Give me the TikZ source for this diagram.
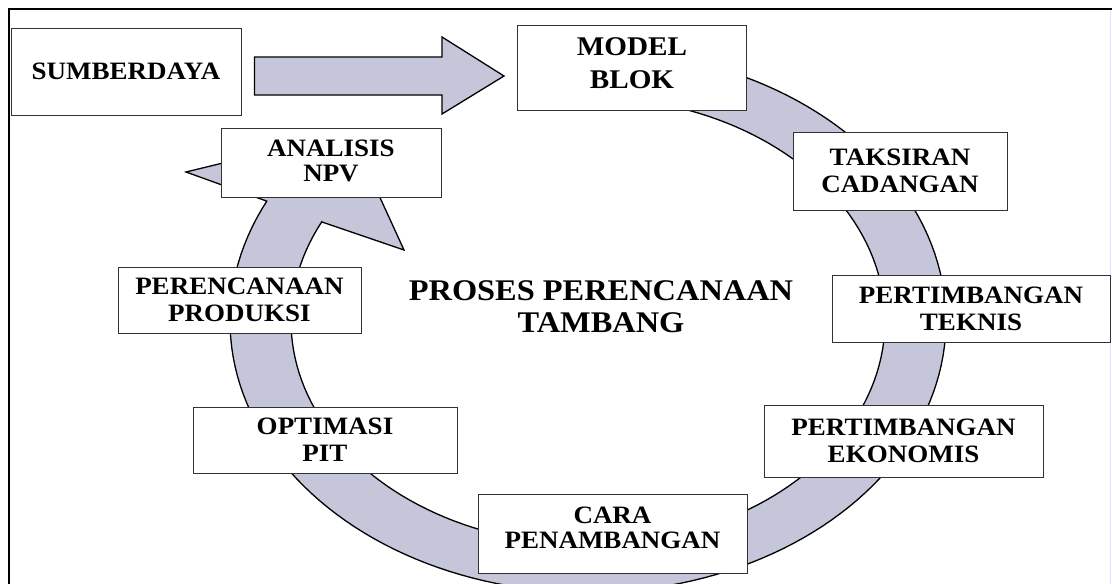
\documentclass[tikz,border=0pt]{standalone}
\usepackage{fontspec}
\newfontfamily\boxfont{Liberation Serif}[FakeStretch=1.08]
\usetikzlibrary{calc}
\definecolor{bandfill}{RGB}{198,198,218}
\definecolor{edgegray}{RGB}{50,50,50}
\tikzset{
  stage/.style={draw=edgegray, line width=1pt, fill=white, inner sep=0pt,
    align=center, text=black,
    font=\boxfont\bfseries\fontsize{25}{27}\selectfont},
  band/.style={fill=bandfill, draw=black, line width=1.3pt, line join=miter},
  titletext/.style={align=center, text=black,
    font=\boxfont\bfseries\fontsize{30}{32}\selectfont}
}
\begin{document}
\begin{tikzpicture}[x=1pt,y=-1pt]
\useasboundingbox (0,0) rectangle (1112,584);
\clip (0,0) rectangle (1112,584);
\fill[white] (0,0) rectangle (1112,584);

% outer frame
\draw[line width=1.4pt] (9,600) -- (9,9) -- (1120,9);
\draw[line width=0.6pt, blue!12] (1110,10) -- (1110,600);

% circular process band, clockwise, ending in its arrowhead
\filldraw[band]
  plot[domain=-90:206.2, samples=150] ({588+358*cos(\x)},{321+271.5*sin(\x)})
  -- (186,172) -- (350,132) -- (404,250) -- (322,222)
  -- plot[domain=206.3:-90, samples=150] ({588+297*cos(\x)},{321+224*sin(\x)})
  -- cycle;

% process stages
\node[stage, minimum width=230pt, minimum height=87pt] (sumber) at (126,71.5) {SUMBERDAYA};
\node[stage, minimum width=229pt, minimum height=85pt, text depth=8pt,
      font=\boxfont\bfseries\fontsize{27}{33}\selectfont] (model) at (632,67.5) {MODEL\\BLOK};
\node[stage, minimum width=214pt, minimum height=78pt] (taksiran) at (900,171) {TAKSIRAN\\CADANGAN};
\node[stage, minimum width=278pt, minimum height=67pt] (teknis) at (971,308.5) {PERTIMBANGAN\\TEKNIS};
\node[stage, minimum width=279pt, minimum height=72pt] (ekonomis) at (903.5,441) {PERTIMBANGAN\\EKONOMIS};
\node[stage, minimum width=269pt, minimum height=79pt, text depth=12pt,
      font=\boxfont\bfseries\fontsize{25}{25}\selectfont] (cara) at (612.5,533.5) {CARA\\PENAMBANGAN};
\node[stage, minimum width=264pt, minimum height=66pt] (optimasi) at (325,440) {OPTIMASI\\PIT};
\node[stage, minimum width=243pt, minimum height=66pt] (produksi) at (239.5,300) {PERENCANAAN\\PRODUKSI};
\node[stage, minimum width=220pt, minimum height=69pt, text depth=4pt,
      font=\boxfont\bfseries\fontsize{25}{25}\selectfont] (npv) at (331,162.5) {ANALISIS\\NPV};

\node[titletext] (judul) at (601,307) {PROSES PERENCANAAN\\TAMBANG};

% block arrow from the resource box to the block model
\coordinate (tail) at ($(sumber.east)+(13,6.5)$);
\coordinate (tip) at ($(model.west)+(-13,8.5)$);
\filldraw[band] (tail |- 0,57) -- ($(tip)+(-62,-19)$) -- ($(tip)+(-62,-39)$)
  -- (tip) -- ($(tip)+(-62,38)$) -- ($(tip)+(-62,19)$) -- (tail |- 0,95) -- cycle;
\end{tikzpicture}
\end{document}
